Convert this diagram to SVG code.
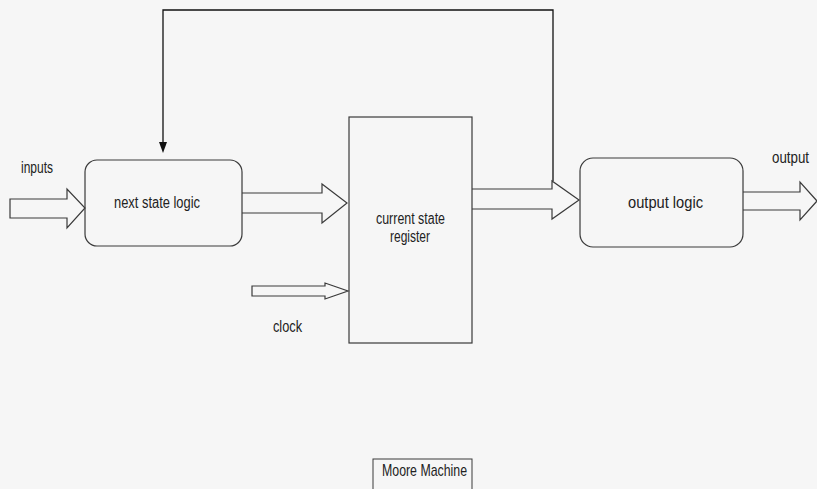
<svg xmlns="http://www.w3.org/2000/svg" width="817" height="489" viewBox="0 0 817 489">
  <style>
    .box { fill: none; stroke: #3a3a3a; stroke-width: 1.2; }
    .bus { fill: none; stroke: #3a3a3a; stroke-width: 1.2; stroke-linejoin: miter; }
    .wire { fill: none; stroke: #111; stroke-width: 1.3; }
    .lbl { font-family: "Liberation Sans", Arial, sans-serif; font-size: 16px; fill: #222; }
  </style>
  <rect width="817" height="489" fill="#f6f6f6"/>

  <!-- connectors -->
  <g id="connectors">
    <!-- state feedback wire back to next state logic -->
    <path class="wire" d="M553,181 V10 H163 V142"/>
    <path d="M159,142 L167,142 L163,153 Z" fill="#111"/>
    <!-- inputs bus -->
    <path class="bus" d="M10,199 H67 V189 L85,208 L67,228 V218 H10 Z"/>
    <!-- next state bus -->
    <path class="bus" d="M242,193 H322 V184 L347,203 L322,223 V213 H242"/>
    <!-- clock -->
    <path class="bus" d="M252,286 H325 V283 L348,291 L325,299 V296 H252 Z"/>
    <!-- current state bus -->
    <path class="bus" d="M472,189 H552 V181 L579,200 L552,219 V209 H472"/>
    <!-- output bus -->
    <path class="bus" d="M743,192 H800 V182 L817,201 L800,220 V210 H743"/>
  </g>

  <g id="next-state-logic">
    <rect class="box" x="85" y="160" width="157" height="86" rx="12"/>
    <text class="lbl" x="114" y="208" textLength="86" lengthAdjust="spacingAndGlyphs">next state logic</text>
  </g>

  <g id="current-state-register">
    <rect class="box" x="349" y="117" width="123" height="226"/>
    <text class="lbl" x="376" y="224" textLength="69" lengthAdjust="spacingAndGlyphs">current state</text>
    <text class="lbl" x="390" y="242" textLength="40" lengthAdjust="spacingAndGlyphs">register</text>
  </g>

  <g id="output-logic">
    <rect class="box" x="580" y="158" width="163" height="89" rx="13"/>
    <text class="lbl" x="628" y="208" textLength="75" lengthAdjust="spacingAndGlyphs">output logic</text>
  </g>

  <g id="labels">
    <text class="lbl" x="21" y="173" textLength="32" lengthAdjust="spacingAndGlyphs">inputs</text>
    <text class="lbl" x="273" y="332" textLength="29" lengthAdjust="spacingAndGlyphs">clock</text>
    <text class="lbl" x="772" y="163" textLength="37" lengthAdjust="spacingAndGlyphs">output</text>
  </g>

  <g id="title">
    <rect x="373" y="459" width="99" height="40" fill="none" stroke="#3a3a3a" stroke-width="1"/>
    <text class="lbl" x="382" y="476" style="font-size:17px" textLength="85" lengthAdjust="spacingAndGlyphs">Moore Machine</text>
  </g>
</svg>
